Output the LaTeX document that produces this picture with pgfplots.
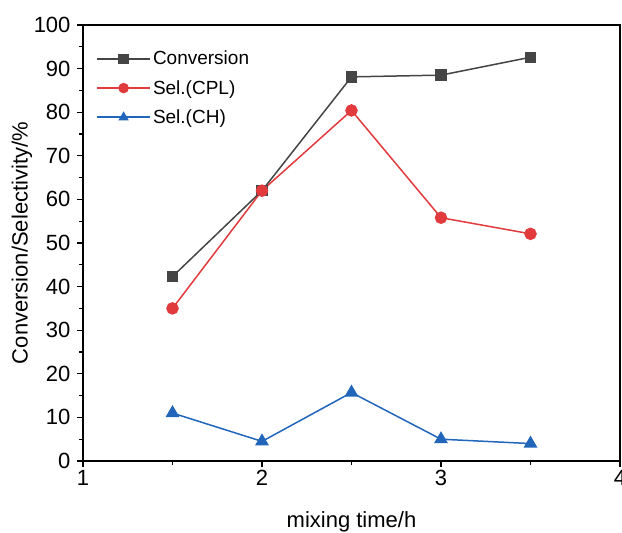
\documentclass[border=0pt]{standalone}
\usepackage{pgfplots}
\pgfplotsset{compat=1.18}
\usepackage{fontspec}
\setmainfont{Liberation Sans}
\definecolor{cgray}{HTML}{454545}
\definecolor{cred}{HTML}{E23B3E}
\definecolor{cblue}{HTML}{2266BB}
\begin{document}
\begin{tikzpicture}
\begin{axis}[
  scale only axis,
  width=537pt, height=436pt,
  xmin=1, xmax=4, ymin=0, ymax=100,
  xtick={1,2,3,4}, ytick={0,10,...,100},
  minor xtick={1.5,2.5,3.5},
  minor ytick={5,15,...,95},
  tick align=outside,
  tick pos=left,
  major tick length=6pt, minor tick length=4pt,
  every tick/.style={black, line width=1.2pt},
  axis line style={line width=1.4pt},
  /pgf/number format/assume math mode=true,
  ticklabel style={font=\fontsize{22}{25}\selectfont},
  yticklabel style={xshift=-3pt},
  label style={font=\fontsize{22}{25}\selectfont},
  xlabel={mixing time/h},
  ylabel={Conversion/Selectivity/\%},
  xlabel style={at={(axis description cs:0.5,0)}, anchor=center, yshift=-61pt},
  ylabel style={at={(axis description cs:0,0.5)}, anchor=center, yshift=61pt},
  legend style={draw=none, fill=none, at={(axis description cs:0,1)}, anchor=north west,
    xshift=10pt, yshift=-22pt,
    font=\fontsize{19}{22}\selectfont, row sep=10pt},
  legend cell align=left,
  legend image code/.code={
    \draw[#1, line width=1.8pt] (0pt,0pt) -- (53pt,0pt);
    \draw[#1, only marks, mark size=4.5pt] plot coordinates {(26.5pt,0pt)};
  },
]
\addplot[cgray, line width=1.5pt, mark=square*, mark size=5pt] coordinates {
(1.5,42.3) (2,62.0) (2.5,88.1) (3,88.5) (3.5,92.6)};
\addlegendentry{Conversion}
\addplot[cred, line width=1.5pt, mark=*, mark size=5.5pt] coordinates {
(1.5,35.0) (2,62.0) (2.5,80.4) (3,55.8) (3.5,52.1)};
\addlegendentry{Sel.(CPL)}
\addplot[cblue, line width=1.5pt, mark=triangle*, mark size=6.5pt] coordinates {
(1.5,11.0) (2,4.5) (2.5,15.7) (3,5.0) (3.5,4.0)};
\addlegendentry{Sel.(CH)}
\end{axis}
\pgfresetboundingbox
\path ([xshift=-83pt,yshift=-71pt]current axis.south west) rectangle ([xshift=2pt,yshift=25pt]current axis.north east);
\end{tikzpicture}
\end{document}
